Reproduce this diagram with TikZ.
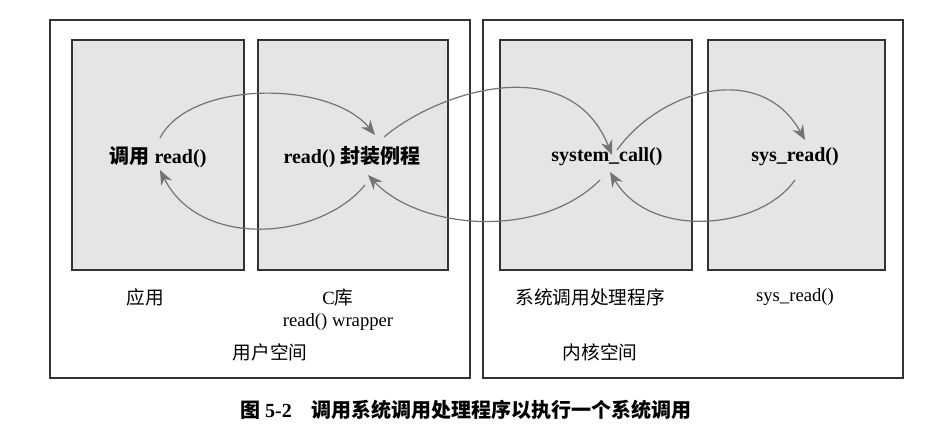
\documentclass[tikz,border=0pt]{standalone}
\usepackage{fontspec}
\setmainfont{Liberation Serif}
\newfontfamily\cjk{Noto Sans CJK SC}
\usetikzlibrary{arrows.meta}
\begin{document}
\begin{tikzpicture}[x=0.75pt,y=-0.75pt,
  outer/.style={draw=black!80,line width=0.8pt},
  inner/.style={draw=black!80,fill=black!10,line width=1pt},
  flow/.style={draw=black!55,line width=0.9pt,-{Stealth[length=11pt,width=9pt]}},
  lbl/.style={font=\fontsize{14}{16}\selectfont},
  blbl/.style={font=\bfseries\fontsize{15}{17}\selectfont}]
\useasboundingbox (0,0) rectangle (932,448);
\draw[outer] (50,20) rectangle (470,378);
\draw[outer] (483,20) rectangle (903,378);
\draw[inner] (72,40) rectangle (244,270);
\draw[inner] (258,40) rectangle (448,270);
\draw[inner] (500,40) rectangle (692,270);
\draw[inner] (708,40) rectangle (885,270);
\node[blbl] (app) at (158,157) {{\cjk 调用} read()};
\node[blbl] (wrap) at (352,157) {read() {\cjk 封装例程}};
\node[blbl] (sc) at (607,157) {system\_call()};
\node[blbl] (sr) at (795,157) {sys\_read()};
\coordinate (a1) at (160,138); \coordinate (a2) at (375,135);
\coordinate (b1) at (384,137); \coordinate (b2) at (612,155);
\coordinate (c1) at (617,150); \coordinate (c2) at (805,140);
\coordinate (d1) at (795,180); \coordinate (d2) at (610,172);
\coordinate (e1) at (600,180); \coordinate (e2) at (368,175);
\coordinate (f1) at (365,185); \coordinate (f2) at (160,170);
\draw[flow] (a1) .. controls (190,80) and (330,80) .. (a2);
\draw[flow] (b1) .. controls (440,90) and (570,50) .. (b2);
\draw[flow] (c1) .. controls (660,90) and (760,60) .. (c2);
\draw[flow] (d1) .. controls (760,230) and (650,240) .. (d2);
\draw[flow] (e1) .. controls (540,240) and (420,230) .. (e2);
\draw[flow] (f1) .. controls (320,240) and (200,250) .. (f2);
\node[lbl] (l1) at (145,297) {\cjk 应用};
\node[lbl] (l2) at (338,297) {C{\cjk 库}};
\node[lbl] (l3) at (338,322) {read() wrapper};
\node[lbl] (l4) at (270,352) {\cjk 用户空间};
\node[lbl] (l5) at (590,297) {\cjk 系统调用处理程序};
\node[lbl] (l6) at (795,297) {sys\_read()};
\node[lbl] (l7) at (600,352) {\cjk 内核空间};
\node[blbl] (cap) at (466,410) {{\cjk\bfseries 图} 5-2\quad{\cjk\bfseries 调用系统调用处理程序以执行一个系统调用}};
\end{tikzpicture}
\end{document}
